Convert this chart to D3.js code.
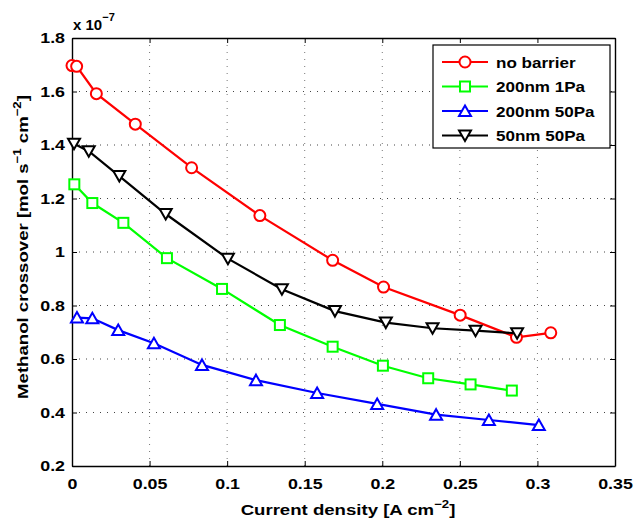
<!DOCTYPE html>
<html><head><meta charset="utf-8">
<script src="https://cdn.jsdelivr.net/npm/d3@7"></script>
<style>body{margin:0;background:#fff;} text{font-family:"Liberation Sans",Arial,sans-serif;font-weight:bold;}</style>
</head><body><svg id="c" width="638" height="519"></svg>
<script>
// ---- data ----
const noBarrierX = [0.000, 0.003, 0.0157, 0.0408, 0.0771, 0.1211, 0.168, 0.2008, 0.2502, 0.2865, 0.3086];
const noBarrierY = [1.697, 1.694, 1.592, 1.478, 1.315, 1.136, 0.969, 0.869, 0.764, 0.681, 0.698];
const nm200Pa1X = [0.0015, 0.0131, 0.0331, 0.0612, 0.0967, 0.134, 0.168, 0.2004, 0.2296, 0.2569, 0.2835];
const nm200Pa1Y = [1.253, 1.183, 1.109, 0.977, 0.862, 0.727, 0.646, 0.575, 0.528, 0.505, 0.482];
const nm200Pa50X = [0.0032, 0.0131, 0.0298, 0.0528, 0.0838, 0.1186, 0.158, 0.1967, 0.2347, 0.2687, 0.3009];
const nm200Pa50Y = [0.755, 0.752, 0.708, 0.659, 0.578, 0.521, 0.473, 0.432, 0.392, 0.372, 0.353];
const nm50Pa50X = [0.0013, 0.0108, 0.0305, 0.0604, 0.1005, 0.1353, 0.1695, 0.2023, 0.2324, 0.2601, 0.2869];
const nm50Pa50Y = [1.405, 1.377, 1.284, 1.142, 0.975, 0.861, 0.779, 0.736, 0.715, 0.706, 0.696];
const seriesNames = ["no barrier", "200nm 1Pa", "200nm 50Pa", "50nm 50Pa"];
const xTicks = [0, 0.05, 0.1, 0.15, 0.2, 0.25, 0.3, 0.35];
const xTickLabels = ["0", "0.05", "0.1", "0.15", "0.2", "0.25", "0.3", "0.35"];
const yTicks = [0.2, 0.4, 0.6, 0.8, 1.0, 1.2, 1.4, 1.6, 1.8];
const yTickLabels = ["0.2", "0.4", "0.6", "0.8", "1", "1.2", "1.4", "1.6", "1.8"];

const series = [
  {name: seriesNames[0], xs: noBarrierX, ys: noBarrierY, color: "#ff0000", marker: "circle"},
  {name: seriesNames[1], xs: nm200Pa1X, ys: nm200Pa1Y, color: "#00ff00", marker: "square"},
  {name: seriesNames[2], xs: nm200Pa50X, ys: nm200Pa50Y, color: "#0000ff", marker: "up"},
  {name: seriesNames[3], xs: nm50Pa50X, ys: nm50Pa50Y, color: "#000000", marker: "down"}
];

const L = 72, R = 615, T = 38, B = 466;
const svg = d3.select("#c");
const x = d3.scaleLinear().domain([0, 0.35]).range([L, R]);
const y = d3.scaleLinear().domain([0.2, 1.8]).range([B, T]);
const FS = 15.5;

function stretch(sel, s) {
  sel.each(function () {
    const t = d3.select(this);
    const tx = +(t.attr("x") || 0), ty = +(t.attr("y") || 0);
    t.attr("transform", `translate(${tx},${ty}) scale(${s},1) translate(${-tx},${-ty})`);
  });
}

// grid
const g = svg.append("g");
g.selectAll(".gx").data(xTicks.slice(1, -1)).enter().append("line")
  .attr("x1", d => x(d)).attr("x2", d => x(d)).attr("y1", B).attr("y2", T)
  .attr("stroke", "#777").attr("stroke-width", 1).attr("stroke-dasharray", "1,6");
g.selectAll(".gy").data(yTicks.slice(1, -1)).enter().append("line")
  .attr("y1", d => y(d)).attr("y2", d => y(d)).attr("x1", L).attr("x2", R)
  .attr("stroke", "#444").attr("stroke-width", 1).attr("stroke-dasharray", "1,6");

// axes
const xAxB = svg.append("g").attr("transform", `translate(0,${B})`)
  .call(d3.axisBottom(x).tickValues(xTicks).tickFormat((d, i) => xTickLabels[i]).tickSizeInner(-5).tickSizeOuter(0).tickPadding(12));
const xAxT = svg.append("g").attr("transform", `translate(0,${T})`)
  .call(d3.axisTop(x).tickValues(xTicks).tickFormat("").tickSizeInner(-5).tickSizeOuter(0));
const yAxL = svg.append("g").attr("transform", `translate(${L},0)`)
  .call(d3.axisLeft(y).tickValues(yTicks).tickFormat((d, i) => yTickLabels[i]).tickSizeInner(-5).tickSizeOuter(0).tickPadding(7));
const yAxR = svg.append("g").attr("transform", `translate(${R},0)`)
  .call(d3.axisRight(y).tickValues(yTicks).tickFormat("").tickSizeInner(-5).tickSizeOuter(0));
[xAxB, xAxT, yAxL, yAxR].forEach(a => {
  a.select(".domain").attr("stroke", "#000").attr("stroke-width", 1.4);
  a.selectAll(".tick line").attr("stroke", "#000").attr("stroke-width", 1);
  a.selectAll("text").attr("font-size", FS).attr("font-weight", "bold").attr("fill", "#000")
    .attr("font-family", "'Liberation Sans',Arial,sans-serif");
});
stretch(xAxB.selectAll(".tick text"), 1.15);
stretch(yAxL.selectAll(".tick text"), 1.15);

// exponent
const ex = svg.append("text").attr("x", 73).attr("y", 30).attr("font-size", 15);
ex.append("tspan").text("x 10");
ex.append("tspan").attr("dy", -9).attr("font-size", 11).text("−7");

// markers
function drawMarker(sel, type, color) {
  if (type === "circle") sel.append("circle").attr("r", 5.5);
  else if (type === "square") sel.append("rect").attr("x", -5).attr("y", -5).attr("width", 10).attr("height", 10);
  else if (type === "up") sel.append("path").attr("d", "M0,-5.5L6,5L-6,5Z");
  else sel.append("path").attr("d", "M0,5.5L6,-5L-6,-5Z");
  sel.selectAll("*").attr("fill", "#fff").attr("stroke", color).attr("stroke-width", 2);
}

const line = d3.line().x(d => x(d[0])).y(d => y(d[1]));
series.forEach(s => {
  const pts = s.xs.map((v, i) => [v, s.ys[i]]);
  svg.append("path").attr("d", line(pts)).attr("fill", "none").attr("stroke", s.color).attr("stroke-width", 2.2);
  pts.forEach(p => {
    const m = svg.append("g").attr("transform", `translate(${x(p[0])},${y(p[1])})`);
    drawMarker(m, s.marker, s.color);
  });
});

// legend
const lg = svg.append("g");
lg.append("rect").attr("x", 433).attr("y", 45).attr("width", 177).attr("height", 103)
  .attr("fill", "#fff").attr("stroke", "#000").attr("stroke-width", 1.2);
series.forEach((s, i) => {
  const yy = 62 + i * 24.5;
  lg.append("line").attr("x1", 442).attr("x2", 488).attr("y1", yy).attr("y2", yy)
    .attr("stroke", s.color).attr("stroke-width", 2.2);
  const m = lg.append("g").attr("transform", `translate(465,${yy})`);
  drawMarker(m, s.marker, s.color);
  const t = lg.append("text").attr("x", 496).attr("y", yy + 6).attr("font-size", FS).text(s.name);
  stretch(t, 1.1);
});

// axis labels
const xl = svg.append("text").attr("x", 348).attr("y", 515).attr("text-anchor", "middle").attr("font-size", FS);
xl.append("tspan").text("Current density [A cm");
xl.append("tspan").attr("dy", -7).attr("font-size", 11).text("−2");
xl.append("tspan").attr("dy", 7).text("]");
stretch(xl, 1.2);

const yl = svg.append("text").attr("transform", `translate(28,247) rotate(-90) scale(1.2,1)`)
  .attr("text-anchor", "middle").attr("font-size", FS);
yl.append("tspan").text("Methanol crossover [mol s");
yl.append("tspan").attr("dy", -7).attr("font-size", 11).text("−1");
yl.append("tspan").attr("dy", 7).text(" cm");
yl.append("tspan").attr("dy", -7).attr("font-size", 11).text("−2");
yl.append("tspan").attr("dy", 7).text("]");
</script></body></html>
